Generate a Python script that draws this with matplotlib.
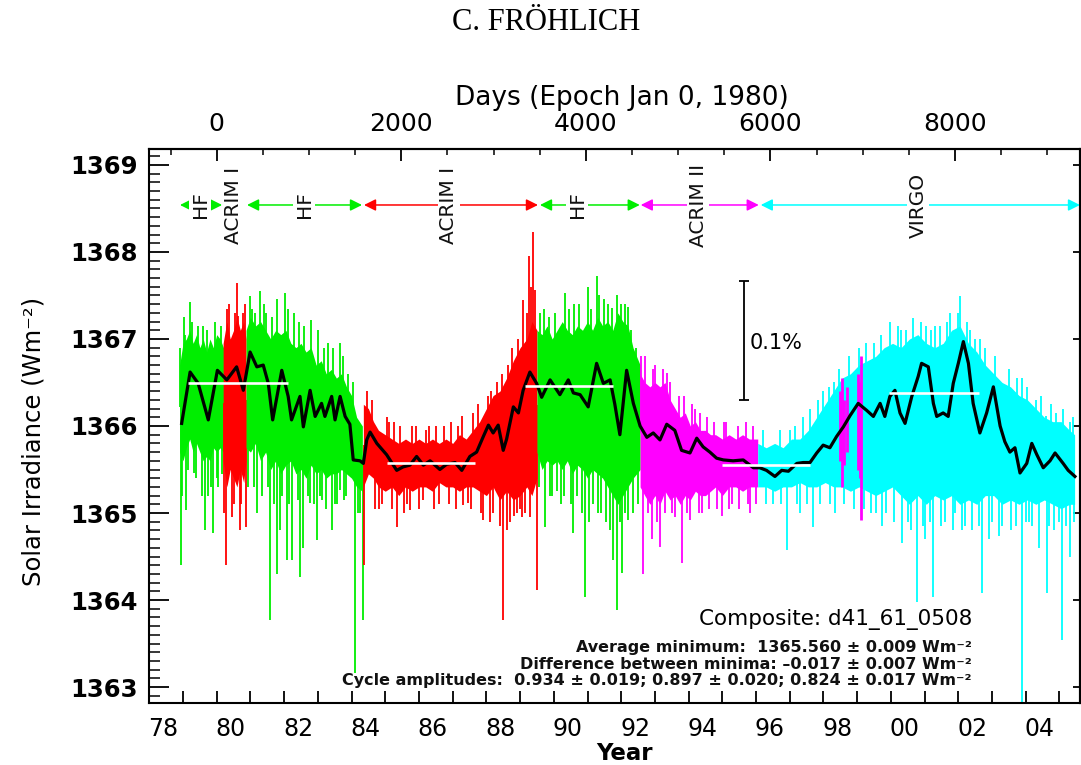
import numpy as np
import matplotlib
matplotlib.use('Agg')
import matplotlib.pyplot as plt
from matplotlib.ticker import FixedLocator, NullLocator

plt.rcParams['font.family'] = ['DejaVu Sans']

# ---------------- data ----------------
# HF (Nimbus-7) 1978-1980
hf1_t  = [1978.90, 1979.00, 1979.10, 1979.20, 1979.30, 1979.40, 1979.50, 1979.60, 1979.70, 1979.80, 1979.90, 1980.00, 1980.10, 1980.20]
hf1_hi = [1366.70, 1366.95, 1367.00, 1367.10, 1366.95, 1367.05, 1366.90, 1367.00, 1366.85, 1367.00, 1366.90, 1367.05, 1367.00, 1366.90]
hf1_lo = [1365.70, 1365.60, 1365.75, 1365.85, 1365.70, 1365.80, 1365.70, 1365.60, 1365.65, 1365.60, 1365.75, 1365.70, 1365.75, 1365.70]
hf1_spk_t = [1978.92, 1978.95, 1979.02, 1979.10, 1979.22, 1979.32, 1979.45, 1979.55, 1979.66, 1979.75, 1979.88, 1979.95, 1980.05, 1980.12,
             1978.98, 1979.05, 1979.15, 1979.28, 1979.38, 1979.60, 1979.70, 1979.82, 1980.00, 1980.15]
hf1_spk_v = [1366.90, 1364.40, 1367.25, 1365.03, 1367.43, 1365.46, 1367.15, 1365.20, 1364.80, 1365.19, 1364.77, 1367.20, 1365.30, 1367.15,
             1365.20, 1367.05, 1365.50, 1367.20, 1365.40, 1367.15, 1367.10, 1365.30, 1365.40, 1365.45]

# ACRIM I 1980
ac1a_t  = [1980.19, 1980.30, 1980.40, 1980.50, 1980.60, 1980.70, 1980.80, 1980.87]
ac1a_hi = [1366.95, 1367.20, 1367.00, 1367.10, 1367.25, 1367.10, 1367.20, 1367.00]
ac1a_lo = [1365.60, 1365.30, 1365.50, 1365.40, 1365.30, 1365.50, 1365.35, 1365.60]
ac1a_spk_t = [1980.28, 1980.31, 1980.45, 1980.59, 1980.62, 1980.69, 1980.78, 1980.86,
              1980.22, 1980.35, 1980.52, 1980.55, 1980.73, 1980.83]
ac1a_spk_v = [1364.40, 1367.35, 1364.95, 1367.64, 1367.26, 1364.80, 1367.30, 1364.84,
              1365.00, 1367.40, 1365.10, 1367.30, 1365.10, 1367.40]

# HF 1980-1984
hf2_t  = [1980.87, 1981.00, 1981.15, 1981.30, 1981.45, 1981.60, 1981.75, 1981.90, 1982.05, 1982.20, 1982.35, 1982.50,
          1982.65, 1982.80, 1982.95, 1983.10, 1983.25, 1983.40, 1983.55, 1983.70, 1983.85, 1984.00, 1984.15, 1984.32]
hf2_hi = [1367.10, 1367.25, 1367.15, 1367.20, 1367.10, 1367.00, 1367.10, 1367.05, 1367.10, 1366.95, 1366.90, 1366.95,
          1366.85, 1366.90, 1366.70, 1366.75, 1366.60, 1366.65, 1366.55, 1366.60, 1366.45, 1366.35, 1366.10, 1366.00]
hf2_lo = [1365.75, 1365.70, 1365.80, 1365.60, 1365.70, 1365.50, 1365.60, 1365.45, 1365.55, 1365.60, 1365.45, 1365.50,
          1365.40, 1365.55, 1365.45, 1365.50, 1365.40, 1365.45, 1365.45, 1365.50, 1365.45, 1365.40, 1365.30, 1365.25]
hf2_spk_t = [1980.98, 1981.10, 1981.20, 1981.28, 1981.45, 1981.58, 1981.70, 1981.78, 1981.79, 1981.88, 1982.04, 1982.08,
             1982.22, 1982.30, 1982.47, 1982.57, 1982.77, 1982.80, 1982.97, 1983.00, 1983.11, 1983.30, 1983.41, 1983.50,
             1983.66, 1983.67, 1983.85, 1983.90, 1984.10, 1984.20, 1984.33,
             1980.92, 1981.05, 1981.15, 1981.35, 1981.40, 1981.52, 1981.65, 1981.95, 1982.12, 1982.15, 1982.40, 1982.43,
             1982.60, 1982.70, 1982.88, 1983.05, 1983.18, 1983.25, 1983.45, 1983.58, 1983.75, 1983.78, 1984.05, 1984.25]
hf2_spk_v = [1367.49, 1365.30, 1365.00, 1367.55, 1367.30, 1363.77, 1365.10, 1364.30, 1367.46, 1364.80, 1367.53, 1364.46,
             1364.46, 1367.30, 1364.27, 1364.60, 1365.11, 1367.22, 1364.69, 1367.10, 1365.15, 1366.95, 1364.80, 1365.10,
             1365.26, 1366.95, 1365.20, 1366.60, 1363.16, 1365.00, 1363.77,
             1365.30, 1367.35, 1367.30, 1365.20, 1367.40, 1365.30, 1367.25, 1365.20, 1367.35, 1365.10, 1365.15, 1367.20,
             1367.15, 1365.20, 1365.10, 1365.20, 1366.90, 1365.05, 1366.90, 1365.10, 1366.80, 1365.15, 1366.50, 1365.00]

# ACRIM I 1984-1989
ac1b_t  = [1984.35, 1984.50, 1984.65, 1984.80, 1985.00, 1985.20, 1985.40, 1985.60, 1985.80, 1986.00, 1986.20, 1986.40, 1986.60, 1986.80,
           1987.00, 1987.20, 1987.40, 1987.60, 1987.80, 1988.00, 1988.20, 1988.40, 1988.60, 1988.80, 1989.00, 1989.20, 1989.35, 1989.50]
ac1b_hi = [1366.25, 1366.20, 1366.05, 1365.95, 1365.90, 1365.85, 1365.80, 1365.85, 1365.80, 1365.85, 1365.80, 1365.85, 1365.80, 1365.85,
           1365.80, 1365.90, 1365.85, 1365.95, 1366.05, 1366.20, 1366.35, 1366.40, 1366.55, 1366.75, 1366.90, 1367.00, 1367.20, 1367.10]
ac1b_lo = [1365.30, 1365.45, 1365.40, 1365.30, 1365.25, 1365.30, 1365.20, 1365.30, 1365.25, 1365.30, 1365.30, 1365.25, 1365.35, 1365.30,
           1365.30, 1365.25, 1365.30, 1365.30, 1365.25, 1365.20, 1365.30, 1365.15, 1365.25, 1365.15, 1365.20, 1365.30, 1365.20, 1365.40]
ac1b_spk_t = [1984.38, 1984.45, 1984.70, 1984.90, 1985.10, 1985.34, 1985.45, 1985.55, 1985.73, 1985.90, 1986.13, 1986.30,
              1986.60, 1986.75, 1987.10, 1987.27, 1987.30, 1987.45, 1987.75, 1987.91, 1988.05, 1988.20, 1988.30, 1988.50,
              1988.60, 1988.65, 1988.82, 1988.95, 1989.00, 1989.10, 1989.25, 1989.39, 1989.45, 1989.49,
              1984.60, 1984.80, 1985.05, 1985.20, 1985.25, 1985.65, 1985.80, 1986.00, 1986.20, 1986.45, 1986.50, 1986.90,
              1986.95, 1987.15, 1987.55, 1987.60, 1987.85, 1988.10, 1988.15, 1988.40, 1988.45, 1988.70, 1988.75, 1988.90,
              1989.05, 1989.15, 1989.20, 1989.30, 1989.33]
ac1b_spk_v = [1364.40, 1366.40, 1365.05, 1365.10, 1366.05, 1364.84, 1366.00, 1365.00, 1365.03, 1366.00, 1365.15, 1366.00,
              1365.10, 1366.00, 1365.05, 1366.11, 1365.09, 1365.12, 1366.25, 1364.92, 1366.35, 1365.00, 1366.50, 1363.77,
              1364.80, 1366.70, 1364.96, 1367.00, 1365.05, 1367.45, 1367.95, 1368.23, 1367.56, 1364.11,
              1366.30, 1365.05, 1366.10, 1365.05, 1366.05, 1365.10, 1366.00, 1365.05, 1365.95, 1365.05, 1366.00, 1365.10,
              1366.05, 1366.00, 1365.05, 1366.15, 1365.00, 1364.90, 1366.40, 1364.85, 1366.60, 1364.90, 1366.90, 1365.00,
              1364.95, 1365.00, 1367.30, 1364.95, 1367.60]

# HF 1989-1992
hf3_t  = [1989.50, 1989.65, 1989.80, 1989.95, 1990.10, 1990.25, 1990.40, 1990.55, 1990.70, 1990.85, 1991.00,
          1991.15, 1991.30, 1991.45, 1991.60, 1991.75, 1991.90, 1992.05, 1992.20, 1992.35, 1992.56]
hf3_hi = [1367.10, 1367.05, 1367.15, 1367.00, 1367.10, 1367.20, 1367.10, 1367.05, 1367.15, 1367.10, 1367.20,
          1367.10, 1367.25, 1367.15, 1367.20, 1367.10, 1367.30, 1367.20, 1367.15, 1366.90, 1366.70]
hf3_lo = [1365.70, 1365.50, 1365.60, 1365.55, 1365.60, 1365.50, 1365.60, 1365.45, 1365.55, 1365.50, 1365.40,
          1365.50, 1365.45, 1365.40, 1365.30, 1365.20, 1365.10, 1365.20, 1365.30, 1365.40, 1365.50]
hf3_spk_t = [1989.60, 1989.74, 1989.85, 1989.95, 1990.20, 1990.33, 1990.58, 1990.60, 1990.93, 1991.02, 1991.05,
             1991.27, 1991.40, 1991.50, 1991.73, 1991.76, 1991.86, 1991.87, 1992.00, 1992.01, 1992.20, 1992.21,
             1989.55, 1989.70, 1989.90, 1990.05, 1990.10, 1990.30, 1990.45, 1990.50, 1990.70, 1990.75, 1990.85,
             1991.10, 1991.15, 1991.30, 1991.35, 1991.55, 1991.62, 1991.68, 1991.95, 1992.10, 1992.12, 1992.30,
             1992.35, 1992.45, 1992.50]
hf3_spk_v = [1367.30, 1364.84, 1367.25, 1365.20, 1365.10, 1367.53, 1364.77, 1367.40, 1364.04, 1367.60, 1364.90,
             1367.72, 1365.00, 1367.46, 1367.36, 1364.46, 1363.89, 1367.50, 1367.40, 1364.31, 1364.92, 1367.37,
             1365.30, 1367.35, 1365.20, 1367.30, 1365.25, 1365.20, 1367.35, 1365.10, 1365.20, 1367.40, 1365.00,
             1367.35, 1365.10, 1365.00, 1367.50, 1364.90, 1367.40, 1364.80, 1364.90, 1367.40, 1365.00, 1367.10,
             1365.00, 1366.90, 1365.10]

# ACRIM II 1992-1996
ac2_t  = [1992.56, 1992.70, 1992.85, 1993.00, 1993.15, 1993.30, 1993.45, 1993.60, 1993.75, 1993.90, 1994.05,
          1994.20, 1994.35, 1994.50, 1994.65, 1994.80, 1995.00, 1995.20, 1995.40, 1995.60, 1995.80, 1996.05]
ac2_hi = [1366.60, 1366.50, 1366.45, 1366.50, 1366.45, 1366.50, 1366.30, 1366.20, 1366.10, 1366.15, 1366.00,
          1366.05, 1365.95, 1365.95, 1365.90, 1365.90, 1365.85, 1365.90, 1365.85, 1365.90, 1365.85, 1365.85]
ac2_lo = [1365.30, 1365.20, 1365.10, 1365.20, 1365.10, 1365.25, 1365.15, 1365.20, 1365.10, 1365.20, 1365.15,
          1365.25, 1365.20, 1365.20, 1365.25, 1365.30, 1365.20, 1365.30, 1365.30, 1365.25, 1365.30, 1365.30]
ac2_spk_t = [1992.65, 1992.70, 1992.90, 1993.00, 1993.15, 1993.35, 1993.50, 1993.70, 1993.79, 1994.04, 1994.20,
             1994.40, 1994.98, 1995.10, 1995.30, 1995.82, 1995.90,
             1992.60, 1992.80, 1992.95, 1993.05, 1993.25, 1993.30, 1993.45, 1993.60, 1993.85, 1993.95, 1994.10,
             1994.30, 1994.35, 1994.55, 1994.60, 1994.75, 1994.85, 1995.05, 1995.20, 1995.45, 1995.50, 1995.70,
             1995.75, 1996.00]
ac2_spk_v = [1364.30, 1366.80, 1364.70, 1366.70, 1364.61, 1366.61, 1365.00, 1366.35, 1364.42, 1364.92, 1366.20,
             1365.00, 1364.96, 1366.05, 1365.10, 1365.00, 1366.00,
             1366.80, 1365.00, 1366.65, 1364.90, 1366.65, 1365.00, 1366.50, 1364.95, 1366.35, 1365.00, 1366.25,
             1365.00, 1366.15, 1366.10, 1365.05, 1366.05, 1365.05, 1366.05, 1365.05, 1366.00, 1365.05, 1366.05,
             1365.10, 1365.10]

# VIRGO 1996-2005
vir_t  = [1996.05, 1996.30, 1996.55, 1996.80, 1997.05, 1997.30, 1997.55, 1997.80, 1998.05, 1998.30, 1998.55, 1998.80, 1999.05,
          1999.30, 1999.55, 1999.80, 2000.05, 2000.30, 2000.55, 2000.80, 2001.05, 2001.30, 2001.55, 2001.80, 2002.05, 2002.30,
          2002.55, 2002.80, 2003.05, 2003.30, 2003.55, 2003.80, 2004.05, 2004.30, 2004.55, 2004.80, 2005.05, 2005.30, 2005.45]
vir_hi = [1365.80, 1365.75, 1365.80, 1365.75, 1365.85, 1365.85, 1365.95, 1366.10, 1366.25, 1366.40, 1366.55, 1366.60, 1366.70,
          1366.75, 1366.80, 1366.90, 1366.95, 1366.90, 1367.00, 1367.05, 1366.95, 1366.90, 1366.95, 1367.10, 1367.15, 1366.95,
          1366.85, 1366.70, 1366.60, 1366.50, 1366.45, 1366.35, 1366.30, 1366.20, 1366.10, 1366.05, 1366.05, 1365.95, 1365.90]
vir_lo = [1365.30, 1365.30, 1365.25, 1365.30, 1365.30, 1365.35, 1365.30, 1365.30, 1365.35, 1365.30, 1365.30, 1365.25, 1365.30,
          1365.25, 1365.20, 1365.25, 1365.30, 1365.20, 1365.10, 1365.20, 1365.10, 1365.20, 1365.15, 1365.20, 1365.10, 1365.15,
          1365.10, 1365.20, 1365.20, 1365.10, 1365.15, 1365.10, 1365.15, 1365.10, 1365.15, 1365.10, 1365.05, 1365.10, 1365.10]
vir_spk_t = [1996.50, 1996.91, 1997.00, 1997.30, 1997.60, 1997.70, 1998.00, 1998.30, 1998.35, 1999.50, 1999.55, 1999.75,
             1999.97, 2000.10, 2000.30, 2000.32, 2000.66, 2000.77, 2001.00, 2001.05, 2001.26, 2001.30, 2001.60, 2001.75,
             2001.90, 2002.05, 2002.20, 2002.25, 2002.50, 2002.69, 2002.90, 2003.04, 2003.20, 2003.40, 2003.55, 2003.88,
             2003.90, 2004.10, 2004.30, 2004.40, 2004.60, 2004.62, 2004.85, 2004.90, 2005.07, 2005.30, 2005.31,
             1996.20, 1996.30, 1996.70, 1996.75, 1997.15, 1997.20, 1997.40, 1997.50, 1997.85, 1997.90, 1998.15, 1998.20,
             1998.45, 1998.60, 1998.75, 1998.90, 1999.05, 1999.20, 1999.25, 1999.40, 1999.70, 1999.85, 2000.20, 2000.45,
             2000.50, 2000.60, 2000.90, 2000.95, 2001.15, 2001.20, 2001.45, 2001.50, 2001.65, 2001.85, 2002.00, 2002.10,
             2002.35, 2002.40, 2002.60, 2002.65, 2002.80, 2003.00, 2003.10, 2003.30, 2003.50, 2003.70, 2003.75, 2004.00,
             2004.05, 2004.20, 2004.45, 2004.70, 2004.75, 2005.00, 2005.10, 2005.20, 2005.40, 2005.42]
vir_spk_v = [1365.10, 1364.57, 1365.95, 1365.00, 1366.20, 1364.84, 1366.40, 1366.50, 1365.00, 1366.95, 1365.00, 1364.85,
             1367.20, 1364.90, 1367.10, 1364.65, 1367.24, 1363.98, 1364.70, 1367.15, 1364.04, 1367.15, 1364.90, 1367.30,
             1365.00, 1367.49, 1364.85, 1367.20, 1367.00, 1364.08, 1364.70, 1366.57, 1364.73, 1366.45, 1364.80, 1362.80,
             1366.55, 1364.90, 1366.30, 1364.60, 1366.11, 1364.08, 1364.80, 1366.15, 1363.54, 1366.05, 1364.50,
             1365.95, 1365.10, 1365.95, 1365.10, 1366.00, 1365.10, 1366.10, 1365.10, 1366.30, 1365.10, 1366.45, 1365.10,
             1366.65, 1365.10, 1366.80, 1365.05, 1366.90, 1365.05, 1366.95, 1365.00, 1367.05, 1365.00, 1367.15, 1367.10,
             1364.90, 1364.80, 1367.20, 1364.85, 1364.90, 1367.10, 1367.15, 1364.85, 1367.20, 1364.80, 1367.30, 1364.80,
             1367.10, 1364.80, 1364.85, 1367.00, 1366.90, 1364.90, 1366.80, 1364.85, 1366.65, 1364.85, 1366.55, 1364.90,
             1366.45, 1364.85, 1366.35, 1364.85, 1366.25, 1364.90, 1366.20, 1364.85, 1366.10, 1364.90]

# ACRIM II filling the SOHO gap 1998-1999
ac2g_t  = [1998.48, 1998.55, 1998.62, 1998.70, 1999.02, 1999.08, 1999.12]
ac2g_lo = [1365.60, 1365.30, 1365.55, 1365.70, 1365.50, 1365.40, 1364.92]
ac2g_hi = [1366.40, 1366.55, 1366.30, 1366.45, 1366.60, 1366.50, 1366.80]

# smoothed composite (black)
sm_t = [1978.96, 1979.21, 1979.45, 1979.75, 1980.02, 1980.30, 1980.59, 1980.79, 1980.99, 1981.19, 1981.38, 1981.53,
        1981.66, 1981.93, 1982.12, 1982.22, 1982.47, 1982.57, 1982.77, 1982.92, 1983.11, 1983.21, 1983.41, 1983.51,
        1983.66, 1983.81, 1983.95, 1984.05, 1984.25, 1984.35, 1984.45, 1984.55, 1984.75, 1985.04, 1985.34, 1985.53,
        1985.73, 1985.93, 1986.13, 1986.33, 1986.62, 1986.82, 1987.07, 1987.27, 1987.51, 1987.71, 1987.91, 1988.06,
        1988.20, 1988.35, 1988.50, 1988.60, 1988.80, 1988.95, 1989.09, 1989.29, 1989.49, 1989.64, 1989.89, 1990.18,
        1990.43, 1990.58, 1990.78, 1991.02, 1991.27, 1991.47, 1991.67, 1991.81, 1991.96, 1992.16, 1992.36, 1992.56,
        1992.76, 1992.95, 1993.15, 1993.35, 1993.59, 1993.79, 1994.04, 1994.24, 1994.43, 1994.63, 1994.83, 1995.03,
        1995.32, 1995.62, 1995.92, 1996.11, 1996.31, 1996.56, 1996.76, 1996.96, 1997.21, 1997.40, 1997.60, 1997.80,
        1997.99, 1998.19, 1998.39, 1998.59, 1998.79, 1999.03, 1999.28, 1999.48, 1999.68, 1999.82, 1999.97, 2000.12,
        2000.27, 2000.42, 2000.62, 2000.81, 2000.91, 2001.11, 2001.26, 2001.36, 2001.55, 2001.70, 2001.85, 2002.00,
        2002.15, 2002.30, 2002.44, 2002.64, 2002.84, 2003.04, 2003.24, 2003.38, 2003.53, 2003.68, 2003.83, 2004.03,
        2004.18, 2004.33, 2004.52, 2004.72, 2004.87, 2005.11, 2005.26, 2005.46]
sm_v = [1366.03, 1366.62, 1366.49, 1366.07, 1366.64, 1366.53, 1366.68, 1366.41, 1366.85, 1366.68, 1366.70, 1366.49,
        1366.07, 1366.64, 1366.34, 1366.07, 1366.34, 1365.99, 1366.41, 1366.11, 1366.26, 1366.11, 1366.34, 1366.07,
        1366.34, 1366.11, 1366.02, 1365.61, 1365.60, 1365.57, 1365.84, 1365.93, 1365.80, 1365.67, 1365.49, 1365.53,
        1365.55, 1365.65, 1365.55, 1365.60, 1365.50, 1365.56, 1365.58, 1365.49, 1365.65, 1365.70, 1365.88, 1366.01,
        1365.92, 1366.01, 1365.72, 1365.85, 1366.22, 1366.15, 1366.41, 1366.62, 1366.49, 1366.33, 1366.53, 1366.36,
        1366.53, 1366.38, 1366.36, 1366.22, 1366.72, 1366.49, 1366.53, 1366.25, 1365.90, 1366.64, 1366.26, 1366.00,
        1365.87, 1365.92, 1365.84, 1366.02, 1365.95, 1365.72, 1365.69, 1365.86, 1365.76, 1365.70, 1365.63, 1365.61,
        1365.60, 1365.61, 1365.52, 1365.52, 1365.49, 1365.42, 1365.49, 1365.48, 1365.57, 1365.58, 1365.58, 1365.69,
        1365.78, 1365.75, 1365.88, 1365.99, 1366.12, 1366.26, 1366.18, 1366.11, 1366.26, 1366.11, 1366.34, 1366.41,
        1366.15, 1366.03, 1366.34, 1366.57, 1366.72, 1366.68, 1366.26, 1366.11, 1366.15, 1366.11, 1366.49, 1366.72,
        1366.97, 1366.72, 1366.26, 1365.92, 1366.15, 1366.45, 1366.00, 1365.82, 1365.70, 1365.75, 1365.46, 1365.57,
        1365.80, 1365.67, 1365.52, 1365.60, 1365.69, 1365.57, 1365.49, 1365.42]

# cycle maxima / minima levels (white lines)
lvl_t0 = [1979.15, 1985.06, 1989.15, 1995.00, 1999.95]
lvl_t1 = [1982.10, 1987.65, 1991.77, 1997.60, 2002.60]
lvl_v  = [1366.494, 1365.569, 1366.457, 1365.552, 1366.384]

# instrument periods
inst_names   = ['HF', 'ACRIM I', 'HF', 'ACRIM I', 'HF', 'ACRIM II', 'VIRGO']
inst_t0      = [1978.91, 1980.19, 1980.90, 1984.37, 1989.59, 1992.58, 1996.14]
inst_t1      = [1980.16, 1980.87, 1984.31, 1989.53, 1992.55, 1996.08, 2005.61]
inst_arrow   = [True, False, True, True, True, True, True]
inst_label_t = [1979.51, 1980.49, 1982.59, 1986.89, 1990.69, 1994.28, 2000.81]
inst_colors  = ['#00ee00', '#ff0000', '#00ee00', '#ff0000', '#00ee00', '#ff00ff', '#00ffff']
arrow_level  = 1368.54

# 0.1 % scale bar
bar_t = 1995.64
bar_lo = 1366.30

# axis ticks / labels
year_label_years = [1978, 1980, 1982, 1984, 1986, 1988, 1990, 1992, 1994, 1996, 1998, 2000, 2002, 2004]
year_labels = ['78', '80', '82', '84', '86', '88', '90', '92', '94', '96', '98', '00', '02', '04']
year_ticks = list(range(1979, 2006))
day_ticks = [0, 2000, 4000, 6000, 8000]
day_minor = list(range(-500, 10000, 500))
y_ticks = [1363, 1364, 1365, 1366, 1367, 1368, 1369]

notes = ['Average minimum:  1365.560 \u00b1 0.009 Wm\u207b\u00b2',
         'Difference between minima: \u20130.017 \u00b1 0.007 Wm\u207b\u00b2',
         'Cycle amplitudes:  0.934 \u00b1 0.019; 0.897 \u00b1 0.020; 0.824 \u00b1 0.017 Wm\u207b\u00b2']
note_levels = [1363.46, 1363.26, 1363.08]

# ---------------- figure ----------------
W, H = 1081, 765
fig = plt.figure(figsize=(W / 100, H / 100), dpi=100)
ax = fig.add_axes([149.3 / W, 1 - 703.3 / H, (1080 - 149.3) / W, (703.3 - 149.3) / H])
ax.set_xlim(1978.0, 2005.61)
ax.set_ylim(1362.813, 1369.18)

segments = [
    (hf1_t, hf1_lo, hf1_hi, hf1_spk_t, hf1_spk_v, '#00ee00'),
    (ac1a_t, ac1a_lo, ac1a_hi, ac1a_spk_t, ac1a_spk_v, '#ff0000'),
    (hf2_t, hf2_lo, hf2_hi, hf2_spk_t, hf2_spk_v, '#00ee00'),
    (ac1b_t, ac1b_lo, ac1b_hi, ac1b_spk_t, ac1b_spk_v, '#ff0000'),
    (hf3_t, hf3_lo, hf3_hi, hf3_spk_t, hf3_spk_v, '#00ee00'),
    (ac2_t, ac2_lo, ac2_hi, ac2_spk_t, ac2_spk_v, '#ff00ff'),
    (vir_t, vir_lo, vir_hi, vir_spk_t, vir_spk_v, '#00ffff'),
]
for t, lo, hi, st, sv, c in segments:
    t = np.asarray(t); lo = np.asarray(lo); hi = np.asarray(hi)
    ax.fill_between(t, lo, hi, color=c, lw=0, zorder=2)
    base = np.interp(st, t, (lo + hi) / 2)
    ax.vlines(st, base, sv, color=c, lw=1.3, zorder=2)

ax.vlines(ac2g_t, ac2g_lo, ac2g_hi, color='#ff00ff', lw=2.0, zorder=3)

ax.plot(sm_t, sm_v, color='black', lw=2.3, zorder=4, solid_joinstyle='round')
ax.hlines(lvl_v, lvl_t0, lvl_t1, color='white', lw=1.9, zorder=5)

# scale bar 0.1 %
bar_hi = bar_lo * 1.001
ax.vlines(bar_t, bar_lo, bar_hi, color='black', lw=1.3, zorder=5)
ax.hlines([bar_lo, bar_hi], bar_t - 0.15, bar_t + 0.15, color='black', lw=1.3, zorder=5)
ax.text(bar_t + 0.18, 1366.95, '0.1%', fontsize=15, ha='left', va='center', zorder=6)

# instrument arrows
for name, t0, t1, on, tl, c in zip(inst_names, inst_t0, inst_t1, inst_arrow, inst_label_t, inst_colors):
    if on:
        ax.annotate('', xy=(t1, arrow_level), xytext=(t0, arrow_level),
                    arrowprops=dict(arrowstyle='<|-|>,head_length=0.5,head_width=0.25', color=c, lw=1.1,
                                    shrinkA=0, shrinkB=0, mutation_scale=14),
                    annotation_clip=False, zorder=6)
    ax.text(tl, arrow_level, name, rotation=90, ha='center', va='center', fontsize=14.5, color='#111111',
            bbox=dict(facecolor='white', edgecolor='none', pad=0.8 if on else 0.2), zorder=7)

# notes
ax.text(2002.405, 1363.78, 'Composite: d41_61_0508', fontsize=15.5, ha='right', va='center', zorder=6)
for s, v in zip(notes, note_levels):
    ax.text(2002.405, v, s, fontsize=11.5, fontweight='bold', ha='right', va='center', zorder=6, color='#111111')

# axes styling
for sp in ax.spines.values():
    sp.set_linewidth(1.5)

ax.xaxis.set_major_locator(FixedLocator([y + 0.41 for y in year_label_years]))
ax.set_xticklabels(year_labels)
ax.xaxis.set_minor_locator(FixedLocator(year_ticks))
ax.tick_params(axis='x', which='major', length=0, pad=10, labelsize=17, top=False)
ax.tick_params(axis='x', which='minor', direction='in', length=8.6, width=1.3, top=False, bottom=True)

ax.yaxis.set_major_locator(FixedLocator(y_ticks))
ax.yaxis.set_minor_locator(FixedLocator([1362.9 + 0.1 * i for i in range(63)]))
ax.tick_params(axis='y', which='major', direction='in', length=14.4, width=1.3, labelsize=17.5, pad=8.6, right=False)
ax.tick_params(axis='y', which='minor', direction='in', length=7.9, width=1.1, right=False)
for lbl in ax.get_yticklabels():
    lbl.set_fontweight('bold')

secx = ax.secondary_xaxis('top', functions=(lambda t: (t - 1980.0) * 365.25, lambda d: 1980.0 + d / 365.25))
secx.xaxis.set_major_locator(FixedLocator(day_ticks))
secx.xaxis.set_minor_locator(FixedLocator(day_minor))
secx.tick_params(which='major', direction='in', length=8.6, width=1.3, labelsize=18, pad=9.5)
secx.tick_params(which='minor', direction='in', length=4.3, width=1.1)
secx.spines['top'].set_linewidth(1.5)

secy = ax.secondary_yaxis('right')
secy.yaxis.set_major_locator(FixedLocator(y_ticks))
secy.yaxis.set_minor_locator(NullLocator())
secy.tick_params(which='major', direction='in', length=5, width=1.3, labelright=False)
secy.spines['right'].set_linewidth(1.5)

# labels
fig.text(624 / W, 1 - 753 / H, 'Year', ha='center', va='center', fontsize=16.5, fontweight='bold')
fig.text(34 / W, 1 - 441 / H, 'Solar Irradiance (Wm\u207b\u00b2)', rotation=90, ha='center', va='center', fontsize=17.5)
fig.text(622 / W, 1 - 105 / H, 'Days (Epoch Jan 0, 1980)', ha='center', va='baseline', fontsize=19)
fig.text(546 / W, 1 - 22.5 / H, 'C. FR\u00d6HLICH', ha='center', va='center', fontsize=22, family=['Liberation Serif', 'DejaVu Serif'])

fig.savefig('out.png', dpi=100)
